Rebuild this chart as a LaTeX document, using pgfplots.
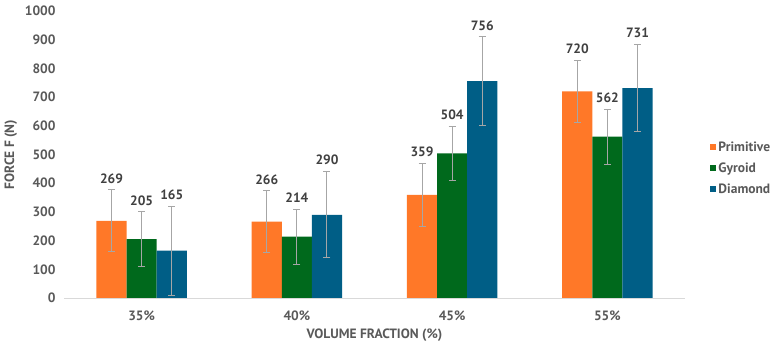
\documentclass[border=0pt]{standalone}
\usepackage{pgfplots}
\pgfplotsset{compat=1.18}
\usepackage{pgfplotstable}
\usepackage{fontspec}
\setmainfont{PT Sans}
\definecolor{cP}{HTML}{FF7828}
\definecolor{cG}{HTML}{00691C}
\definecolor{cD}{HTML}{005E86}
\definecolor{txt}{HTML}{595959}
\definecolor{lab}{HTML}{404040}
\definecolor{errc}{HTML}{A6A6A6}
\newcommand{\ff}{\fontsize{13.5}{15}\selectfont\bfseries}
\pgfplotstableread{
x P Perr G Gerr D Derr
0 269 108 205 95 165 155
1 266 107 214 96 290 150
2 359 110 504 95 756 154
3 720 108 562 96 731 152
}\data
\begin{document}
\begin{tikzpicture}
\useasboundingbox (-64pt,-52pt) rectangle (712pt,298pt);
\begin{axis}[
  scale only axis, width=621pt, height=287pt,
  ybar=0pt, bar width=0.194,
  xmin=-0.5, xmax=3.5, ymin=0, ymax=1000,
  xtick={0,1,2,3}, xticklabels={35\%,40\%,45\%,55\%},
  ytick={0,100,...,1000},
  major tick length=0pt,
  axis x line*=bottom, axis y line*=left,
  y axis line style={draw=none},
  x axis line style={draw=black!15, line width=0.8pt, -},
  every x tick label/.append style={yshift=-9pt},
  every y tick label/.append style={xshift=-5pt},
  /pgf/number format/assume math mode=true,
  /pgf/number format/1000 sep={},
  tick label style={font=\ff, text=txt},
  xlabel={VOLUME FRACTION (\%)}, ylabel={FORCE F (N)},
  label style={font=\ff, text=txt},
  xlabel style={yshift=-2pt},
  ylabel style={yshift=1pt},
  clip=false,
  legend style={at={(1.035,0.56)}, anchor=north west, draw=none, fill=none,
    font=\ff, text=txt, row sep=6pt,
    legend cell align=left},
  legend image code/.code={\fill[#1] (0pt,-3.2pt) rectangle (6.5pt,3.3pt);},
  nodes near coords,
  nodes near coords style={font=\ff, text=lab, anchor=south, yshift={0.287pt*\myerr+3pt}},
  visualization depends on={\thisrow{\errcol} \as \myerr},
  error bars/y dir=both, error bars/y explicit,
  error bars/error bar style={draw=errc, line width=1pt},
  error bars/error mark options={draw=errc, line width=1pt, mark size=3.5pt, rotate=90},
]
\def\errcol{Perr}
\addplot[fill=cP, draw=none] table[x=x, y=P, y error=Perr] {\data};
\addlegendentry{Primitive}
\def\errcol{Gerr}
\addplot[fill=cG, draw=none] table[x=x, y=G, y error=Gerr] {\data};
\addlegendentry{Gyroid}
\def\errcol{Derr}
\addplot[fill=cD, draw=none] table[x=x, y=D, y error=Derr] {\data};
\addlegendentry{Diamond}
\end{axis}
\end{tikzpicture}
\end{document}
